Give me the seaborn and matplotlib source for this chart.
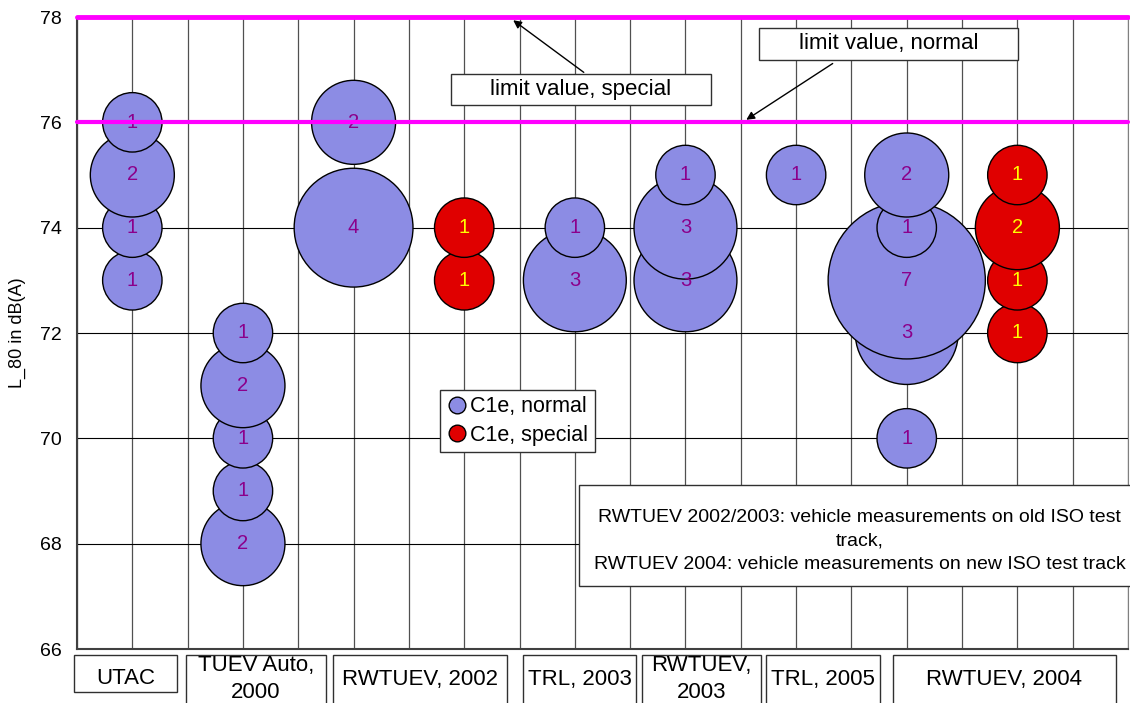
import numpy as np
import pandas as pd
import matplotlib
matplotlib.use("Agg")
import matplotlib.pyplot as plt
from matplotlib.patches import Rectangle
from matplotlib.lines import Line2D
import seaborn as sns

# --- data: L_80 levels and number of vehicles per source ---
sources = ["UTAC", "TUEV Auto, 2000", "RWTUEV, 2002", "RWTUEV, 2002",
           "TRL, 2003", "RWTUEV, 2003", "TRL, 2005", "RWTUEV, 2004", "RWTUEV, 2004"]
classes = ["normal", "normal", "normal", "special",
           "normal", "normal", "normal", "normal", "special"]
levels = [
    [73, 74, 75, 76],
    [68, 69, 70, 71, 72],
    [74, 76],
    [73, 74],
    [73, 74],
    [73, 74, 75],
    [75],
    [70, 72, 73, 74, 75],
    [72, 73, 74, 75],
]
counts = [
    [1, 1, 2, 1],
    [2, 1, 1, 2, 1],
    [4, 2],
    [1, 1],
    [3, 1],
    [3, 3, 1],
    [1],
    [1, 3, 7, 1, 2],
    [1, 1, 2, 1],
]
limit_normal = 76
limit_special = 78

cat_labels = ["UTAC", "TUEV Auto,\n2000", "RWTUEV, 2002", "TRL, 2003",
              "RWTUEV,\n2003", "TRL, 2005", "RWTUEV, 2004"]
note = ("RWTUEV 2002/2003: vehicle measurements on old ISO test\ntrack,\n"
        "RWTUEV 2004: vehicle measurements on new ISO test track")

rows = []
for i, (src, cls, lv, ct) in enumerate(zip(sources, classes, levels, counts)):
    for l, c in zip(lv, ct):
        rows.append({"pos": 1 + 2 * i, "source": src, "cls": cls, "L80": l, "n": c})
df = pd.DataFrame(rows)

W, H = 1130, 703
def fx(px):
    return px / W
def fy(py):
    return 1 - py / H

sns.set_style("white")
plt.rcParams["font.family"] = ["Liberation Sans", "DejaVu Sans"]
plt.rcParams["text.color"] = "black"
plt.rcParams["axes.labelcolor"] = "black"

blue = "#8C8CE4"
red = "#E00000"

fig = plt.figure(figsize=(W / 100, H / 100), dpi=100)
ax = fig.add_axes([fx(77), fy(649), fx(1128) - fx(77), fy(17) - fy(649)])

# radius ~30 px for one vehicle, area proportional to count
s1 = 1830
sns.scatterplot(data=df, x="pos", y="L80", hue="cls", size="n",
                palette={"normal": blue, "special": red},
                sizes=(s1, 7 * s1), size_norm=(1, 7),
                edgecolor="black", linewidth=1.0, alpha=1,
                legend=False, ax=ax, zorder=3, clip_on=False)

for _, r in df.iterrows():
    ax.text(r["pos"], r["L80"], str(r["n"]), ha="center", va="center",
            fontsize=14.5, color="#8B008B" if r["cls"] == "normal" else "#FFFF00",
            zorder=5)

ax.axhline(limit_normal, color="#FF00FF", lw=3, zorder=6, clip_on=False)
ax.axhline(limit_special, color="#FF00FF", lw=3.5, zorder=6, clip_on=False)

ax.set_xlim(0, 19)
ax.set_ylim(66, 78)
ax.set_xticks(np.arange(0, 20, 1))
ax.set_xticks(np.arange(0, 19.01, 0.2), minor=True)
ax.set_xticklabels([])
ax.set_yticks(np.arange(66, 79, 2))
ax.set_yticks(np.arange(67, 78, 2), minor=True)
ax.tick_params(axis="y", which="both", direction="out", length=5, width=1,
               labelsize=14, pad=6, colors="black")
ax.tick_params(axis="x", which="major", direction="inout", length=10, width=1,
               colors="black")
ax.tick_params(axis="x", which="minor", direction="inout", length=6, width=0.8,
               colors="black")
ax.grid(axis="y", color="black", lw=0.8)
ax.grid(axis="x", color="#505050", lw=0.9)
ax.set_axisbelow(True)
for side in ["left", "bottom"]:
    ax.spines[side].set_color("#404040")
    ax.spines[side].set_linewidth(1.5)
ax.spines["right"].set_color("#808080")
ax.spines["top"].set_visible(False)
ax.set_xlabel("")
ax.set_ylabel("L_80 in dB(A)", fontsize=13, labelpad=10)

# category boxes under the axis
cat_box_px = [(74, 177, 692), (186, 326, 720), (333, 507, 720), (523, 636, 720),
              (642, 761, 720), (766, 880, 720), (893, 1116, 720)]
for lab, (x0, x1, y1) in zip(cat_labels, cat_box_px):
    fig.add_artist(Rectangle((fx(x0), fy(y1)), fx(x1) - fx(x0), fy(655) - fy(y1),
                             transform=fig.transFigure, facecolor="white",
                             edgecolor="#303030", lw=1, clip_on=False))
    fig.text(fx((x0 + x1) / 2), fy(679), lab, ha="center", va="center",
             fontsize=16, linespacing=1.35)

# boxed annotations
def boxed(x0, x1, y0, y1, txt, fs, ls=1.2, ty=None):
    fig.add_artist(Rectangle((fx(x0), fy(y1)), fx(x1) - fx(x0), fy(y0) - fy(y1),
                             transform=fig.transFigure, facecolor="white",
                             edgecolor="#303030", lw=1, zorder=10))
    if ty is None:
        ty = (y0 + y1) / 2
    fig.text(fx((x0 + x1) / 2), fy(ty), txt, ha="center", va="center",
             fontsize=fs, linespacing=ls, zorder=11)

ax.annotate("", xy=((511 - 77) / 55.32, limit_special - 0.03),
            xytext=(fx(586), fy(74)), textcoords="figure fraction",
            arrowprops=dict(arrowstyle="-|>", color="black", lw=1, mutation_scale=12),
            zorder=7)
ax.annotate("", xy=((744 - 77) / 55.32, limit_normal + 0.02),
            xytext=(fx(835), fy(62)), textcoords="figure fraction",
            arrowprops=dict(arrowstyle="-|>", color="black", lw=1, mutation_scale=12),
            zorder=7)
boxed(451, 711, 74, 105, "limit value, special", 16)
boxed(759, 1018, 28, 60, "limit value, normal", 16)
boxed(579, 1140, 485, 586, note, 14, 1.5, ty=541)

handles = [Line2D([], [], marker="o", ls="", markerfacecolor=blue,
                  markeredgecolor="black", markersize=12),
           Line2D([], [], marker="o", ls="", markerfacecolor=red,
                  markeredgecolor="black", markersize=12)]
leg = fig.legend(handles, ["C1e, normal", "C1e, special"], loc="upper left",
                 bbox_to_anchor=(fx(440), fy(390)), frameon=True, fancybox=False,
                 edgecolor="#303030", framealpha=1, fontsize=15.5,
                 handletextpad=0.1, borderpad=0.3, labelspacing=0.35,
                 handlelength=1.0, borderaxespad=0)
leg.get_frame().set_linewidth(1)

fig.savefig("out.png", dpi=100)
